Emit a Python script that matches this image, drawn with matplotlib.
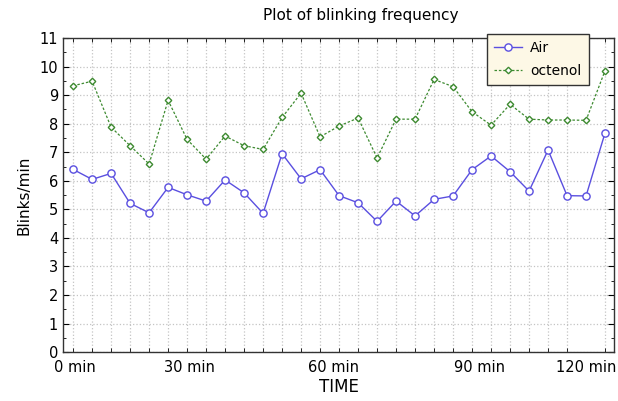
import numpy as np
import matplotlib.pyplot as plt
from matplotlib.ticker import MultipleLocator

# blinks/min per sample (29 samples over ~2 h)
air = [6.40, 6.05, 6.26, 5.21, 4.88, 5.77, 5.51, 5.29, 6.03, 5.58, 4.86, 6.95,
       6.07, 6.39, 5.48, 5.23, 4.58, 5.29, 4.77, 5.35, 5.47, 6.39, 6.87, 6.32,
       5.64, 7.08, 5.48, 5.47, 7.68]
octenol = [9.33, 9.49, 7.88, 7.23, 6.59, 8.82, 7.45, 6.76, 7.57, 7.23, 7.10, 8.22,
           9.07, 7.54, 7.92, 8.20, 6.80, 8.16, 8.16, 9.55, 9.30, 8.42, 7.95, 8.68,
           8.16, 8.13, 8.13, 8.12, 9.86]
time_labels = ['0 min', '30 min', '60 min', '90 min', '120 min']
label_pos = [0.1, 6.1, 13.7, 21.4, 27.0]

x = np.arange(len(air))

fig = plt.figure(figsize=(6.18, 4.01), dpi=100)
ax = fig.add_axes([0.102, 0.122, 0.8915, 0.783])

ax.plot(x, air, color='#5a4fe0', lw=1.0, marker='o', ms=5.2,
        mfc='white', mec='#5a4fe0', mew=1.0, label='Air')
ax.plot(x, octenol, color='#3d8a30', lw=0.9, ls=(0, (2, 1.5)), marker='D', ms=3.3,
        mfc='white', mec='#3d8a30', mew=1.0, label='octenol')

ax.set_xlim(-0.53, 28.47)
ax.set_ylim(0, 11)

ax.yaxis.set_major_locator(MultipleLocator(1))
ax.yaxis.set_minor_locator(MultipleLocator(0.5))
ax.set_xticks(x, minor=True)
ax.set_xticks(label_pos)
ax.set_xticklabels(time_labels)

ax.tick_params(axis='x', which='major', length=0, labelsize=10.5, pad=6)
ax.tick_params(axis='x', which='minor', direction='in', length=3, top=True)
ax.tick_params(axis='y', which='both', direction='in', right=True, labelsize=10.5)
ax.tick_params(axis='y', which='major', length=4)
ax.tick_params(axis='y', which='minor', length=2)

ax.grid(True, which='major', axis='y', color='#c4c4c4', ls=':', lw=0.9)
ax.grid(True, which='minor', axis='x', color='#c4c4c4', ls=':', lw=0.9)
for s in ax.spines.values():
    s.set_color('#333333')
    s.set_linewidth(1.0)

ax.set_xlabel('TIME', fontsize=12, labelpad=2)
ax.set_ylabel('Blinks/min', fontsize=11, labelpad=6)
fig.text(0.583, 0.962, 'Plot of blinking frequency', ha='center', va='center', fontsize=11)

leg = ax.legend(loc='upper left', bbox_to_anchor=(0.77, 1.012), fontsize=10,
                frameon=True, fancybox=False, edgecolor='#333333',
                borderaxespad=0, handlelength=2.0, handletextpad=0.6,
                labelspacing=0.6, borderpad=0.5)
leg.get_frame().set_facecolor('#fdf8e6')
leg.get_frame().set_alpha(1)
leg.get_frame().set_linewidth(1.0)

fig.savefig('out.png', dpi=100)
